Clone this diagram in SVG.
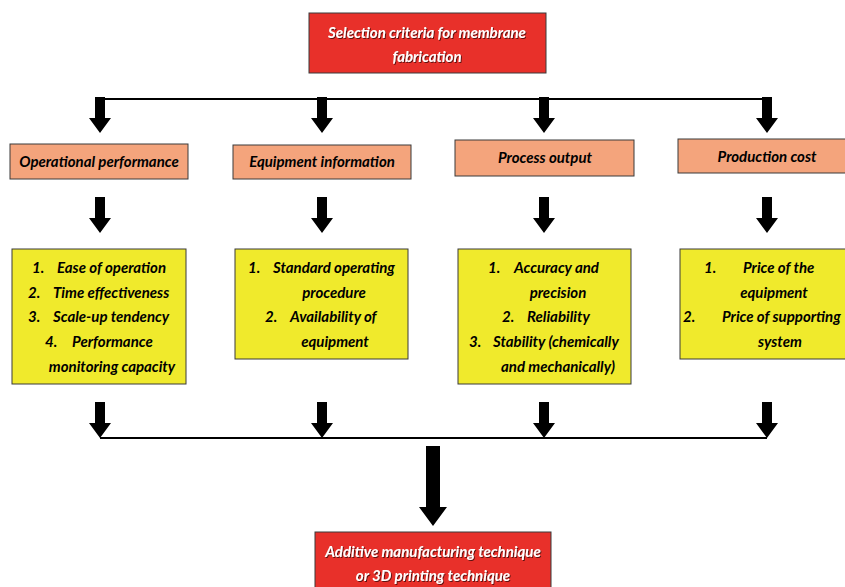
<svg xmlns="http://www.w3.org/2000/svg" width="845" height="587" viewBox="0 0 845 587">
<style>
.red{fill:#e8302a;stroke:#3a3a3a;stroke-width:1}
.hdr{fill:#f4a47c;stroke:#3a3a3a;stroke-width:1}
.yel{fill:#f0ea2c;stroke:#3a3a3a;stroke-width:1}
text{font-family:Lato,"Open Sans","Liberation Sans",sans-serif;font-weight:bold;font-style:italic;font-size:15px;fill:#000}
.w{fill:#fff;filter:url(#sh)}
.c{text-anchor:middle}
.ln{stroke:#000;stroke-width:2;fill:none}
</style>
<defs>
<filter id="sh" x="-10%" y="-30%" width="120%" height="160%"><feDropShadow dx="1" dy="1" stdDeviation="0.6" flood-color="#000" flood-opacity="0.6"/></filter>
<polygon id="arr" points="-5,-36 5,-36 5,-15 11,-15 0,0 -11,-15 -5,-15" fill="#000"/>
</defs>
<g id="connectors">
<line class="ln" x1="100" y1="99" x2="767" y2="99"/>
<use href="#arr" x="100" y="133"/>
<use href="#arr" x="322" y="133"/>
<use href="#arr" x="544" y="133"/>
<use href="#arr" x="767" y="133"/>
<use href="#arr" x="100" y="233"/>
<use href="#arr" x="322" y="233"/>
<use href="#arr" x="544" y="233"/>
<use href="#arr" x="767" y="233"/>
<use href="#arr" x="100" y="438"/>
<use href="#arr" x="322" y="438"/>
<use href="#arr" x="544" y="438"/>
<use href="#arr" x="767" y="438"/>
<line class="ln" x1="100" y1="438" x2="767" y2="438"/>
<polygon points="426,446 440,446 440,507 447,507 433,526 419,507 426,507" fill="#000"/>
</g>
<g id="top">
<rect class="red" x="309" y="13" width="237" height="60"/>
<text class="w c" x="427" y="38">Selection criteria for membrane</text>
<text class="w c" x="427" y="62">fabrication</text>
</g>
<g id="h1"><rect class="hdr" x="10" y="144" width="178" height="35"/><text class="c" x="99" y="167">Operational performance</text></g>
<g id="h2"><rect class="hdr" x="233" y="145" width="178" height="34"/><text class="c" x="322" y="167">Equipment information</text></g>
<g id="h3"><rect class="hdr" x="455" y="140" width="179" height="36"/><text class="c" x="545" y="163">Process output</text></g>
<g id="h4"><rect class="hdr" x="678" y="139" width="170" height="34"/><text class="c" x="767" y="162">Production cost</text></g>
<g id="b1">
<rect class="yel" x="12" y="249" width="174" height="135"/>
<text x="32" y="273">1.</text><text x="57" y="273">Ease of operation</text>
<text x="28" y="298">2.</text><text x="53" y="298">Time effectiveness</text>
<text x="28" y="322">3.</text><text x="53" y="322">Scale-up tendency</text>
<text x="45" y="347">4.</text><text x="72" y="347">Performance</text>
<text class="c" x="112" y="372">monitoring capacity</text>
</g>
<g id="b2">
<rect class="yel" x="235" y="249" width="173" height="110"/>
<text x="248" y="273">1.</text><text x="273" y="273">Standard operating</text>
<text class="c" x="334" y="298">procedure</text>
<text x="265" y="322">2.</text><text x="290" y="322">Availability of</text>
<text class="c" x="335" y="347">equipment</text>
</g>
<g id="b3">
<rect class="yel" x="458" y="249" width="173" height="135"/>
<text x="488" y="273">1.</text><text x="514" y="273">Accuracy and</text>
<text class="c" x="558" y="298">precision</text>
<text x="502" y="322">2.</text><text x="527" y="322">Reliability</text>
<text x="469" y="347">3.</text><text x="493" y="347">Stability (chemically</text>
<text class="c" x="558" y="372">and mechanically)</text>
</g>
<g id="b4">
<rect class="yel" x="680" y="249" width="168" height="110"/>
<text x="704" y="273">1.</text><text x="743" y="273">Price of the</text>
<text class="c" x="774" y="298">equipment</text>
<text x="683" y="322">2.</text><text x="722" y="322">Price of supporting</text>
<text class="c" x="780" y="347">system</text>
</g>
<g id="bottom">
<rect class="red" x="315" y="532" width="236" height="60"/>
<text class="w c" x="433" y="557">Additive manufacturing technique</text>
<text class="w c" x="433" y="581">or 3D printing technique</text>
</g>
</svg>
